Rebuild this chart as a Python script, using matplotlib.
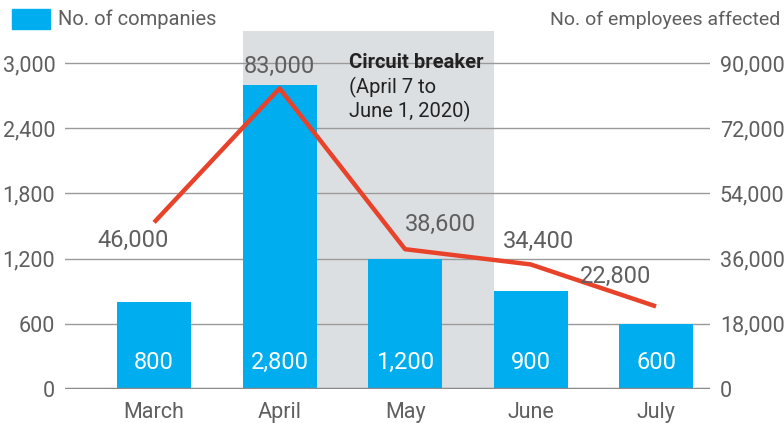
import matplotlib
matplotlib.use("Agg")
import matplotlib.pyplot as plt
from matplotlib.patches import Rectangle

# data
months = ["March", "April", "May", "June", "July"]
companies = [800, 2800, 1200, 900, 600]
employees = [46000, 83000, 38600, 34400, 22800]
left_ticks = [0, 600, 1200, 1800, 2400, 3000]
right_ticks = [0, 18000, 36000, 54000, 72000, 90000]

blue = "#00AEEF"
red = "#E8432A"
shade = "#DCDFE2"
txt = "#5f5f5f"

plt.rcParams['font.family'] = ['Roboto', 'DejaVu Sans']

fig = plt.figure(figsize=(7.84, 4.23), dpi=100)
ax = fig.add_axes([65 / 784, 1 - 389 / 423, 645 / 784, 358 / 423])
ax2 = ax.twinx()

x = list(range(len(months)))
top = 3000 * 358 / 326

# shaded circuit breaker period
ax.add_patch(Rectangle((0.705, 0), 2.0, top, color=shade, zorder=0, lw=0))

# grid lines
for t in left_ticks[1:]:
    ax.axhline(t, color="#9a9a9a", lw=1, zorder=1)
ax.axhline(0, color="#8a8a8a", lw=2.5, zorder=4)

bars = ax.bar(x, companies, width=0.59, color=blue, zorder=2)
for xi, v in zip(x, companies):
    ax.text(xi, 240, f"{v:,}", ha="center", va="center", color="white", fontsize=17, zorder=5)

ax.set_xlim(-0.71, 4.43)
ax.set_ylim(0, top)
ax2.set_ylim(0, top * 30)

ax.set_yticks(left_ticks)
ax.set_yticklabels([f"{t:,}" for t in left_ticks])
ax2.set_yticks(right_ticks)
ax2.set_yticklabels([f"{t:,}" for t in right_ticks])
ax.set_xticks(x)
ax.set_xticklabels(months)

for a in (ax, ax2):
    for s in a.spines.values():
        s.set_visible(False)
    a.tick_params(length=0, labelsize=15.5, colors=txt, pad=7)
ax.tick_params(axis="x", pad=9)

# employees line
ax2.plot(x, employees, color=red, lw=3.2, zorder=3, solid_capstyle="butt")
label_off = [(-0.17, -4900), (0, 6150), (0.28, 6900), (0.06, 6200), (-0.32, 8400)]
for xi, v, (dx, dy) in zip(x, employees, label_off):
    ax2.text(xi + dx, v + dy, f"{v:,}", ha="center", va="center", color=txt, fontsize=17)

ax.text(1.55, 3008, "Circuit breaker", ha="left", va="center", fontsize=14.5,
        fontweight="bold", color="#222222")
ax.text(1.55, 2775, "(April 7 to", ha="left", va="center", fontsize=14.5, color="#222222")
ax.text(1.55, 2550, "June 1, 2020)", ha="left", va="center", fontsize=14.5, color="#222222")

# legend / axis titles
fig.patches.append(Rectangle((12 / 784, 1 - 29 / 423), 38 / 784, 20 / 423,
                             transform=fig.transFigure, color=blue))
fig.text(58 / 784, 1 - 19 / 423, "No. of companies", ha="left", va="center",
         fontsize=14.5, color=txt)
fig.text(780 / 784, 1 - 20 / 423, "No. of employees affected", ha="right", va="center",
         fontsize=14, color=txt)

fig.savefig("out.png", dpi=100)
